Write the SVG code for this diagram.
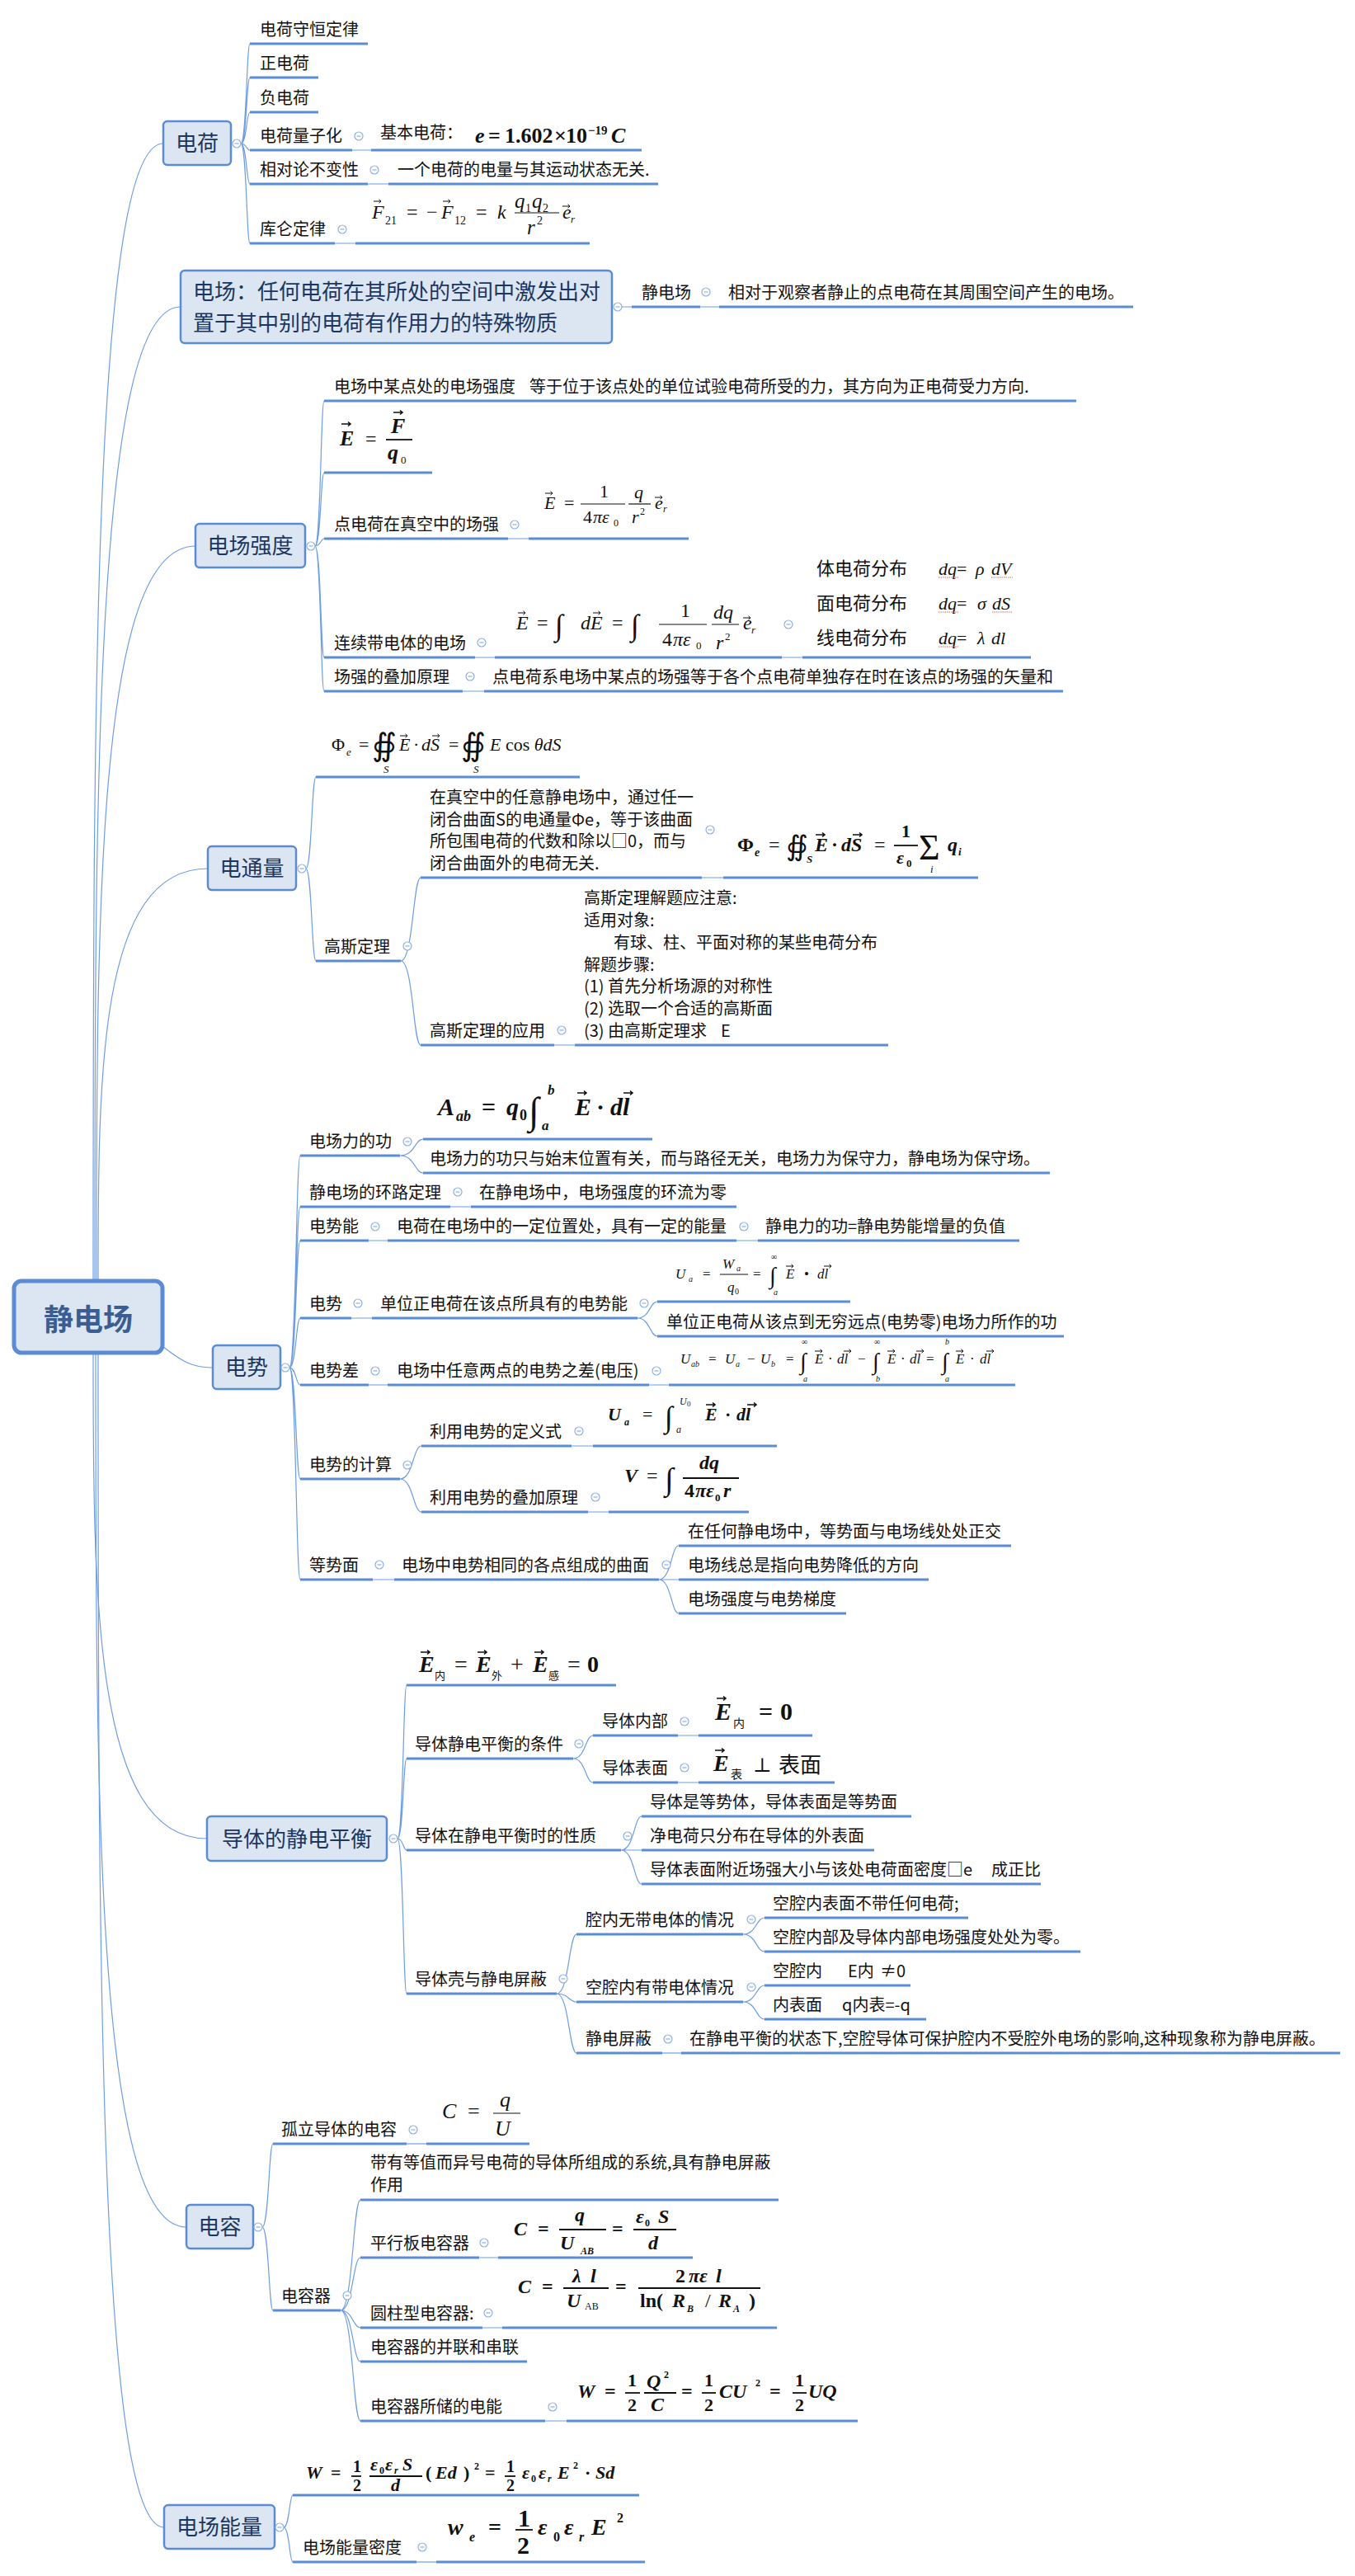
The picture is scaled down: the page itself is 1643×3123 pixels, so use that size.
<svg xmlns="http://www.w3.org/2000/svg" width="1643" height="3123" viewBox="0 0 1643 3123">
<defs>
<style>
.ul{stroke:#5a8dd6;stroke-width:3;fill:none}
.ln{stroke:#6e9ee2;stroke-width:1.2;fill:none}
.bx{fill:#dce6f2;stroke:#5b8bd4;stroke-width:2.5}
.mt{font-family:"Noto Sans CJK SC",sans-serif;font-size:26px;fill:#1b3660;text-anchor:middle}
.t{font-family:"Noto Sans CJK SC",sans-serif;font-size:20px;fill:#111}
.m{font-family:"Liberation Serif",serif;font-style:italic;fill:#111}
.mb{font-family:"Liberation Serif",serif;font-style:italic;font-weight:bold;fill:#111}
.r{font-family:"Liberation Serif",serif;fill:#111}
.rb{font-family:"Liberation Serif",serif;font-weight:bold;fill:#111}
.sym{font-family:"DejaVu Serif","DejaVu Sans",serif;fill:#111}
.cj{font-family:"Noto Sans CJK SC",sans-serif;fill:#111}
.fb{stroke:#111;stroke-width:1.2}
.fbb{stroke:#111;stroke-width:1.8}
.sq{stroke:#e06666;stroke-width:1;fill:none;stroke-dasharray:1.5 1}
</style>
<g id="c"><circle r="5" fill="#fff" stroke="#8db0e6" stroke-width="1.2"/><path d="M-2.5 0H2.5" stroke="#8db0e6" stroke-width="1.2"/></g>
<path id="va" d="M0 0H9M6.5-2.2L9 0L6.5 2.2" fill="none" stroke="#111" stroke-width="1"/>
<path id="vb" d="M0 0H11M8-2.5L11 0L8 2.5" fill="none" stroke="#111" stroke-width="1.6"/>
</defs>
<rect width="1643" height="3123" fill="#fff"/>

<g id="connectors" class="ln">
<path d="M113 1553C113 864 113 174 198 174"/>
<path d="M115 1553C115 963 115 372 219 372"/>
<path d="M117 1553C117 1108 117 662 237 662"/>
<path d="M119 1553C119 1303 119 1053 252 1053"/>
<path d="M197 1632C222 1652 235 1658 258 1658"/>
<path d="M113 1640C113 1935 113 2229 251 2229"/>
<path d="M116 1640C116 2170 116 2700 226 2700"/>
<path d="M119 1640C119 2352 119 3064 199 3064"/>
<path d="M292 174C299 174 299 53 303 53M292 174C299 174 299 94 303 94M292 174C299 174 299 136 303 136M292 174C299 174 299 182 303 182M292 174C299 174 299 223 303 223M292 174C299 174 299 295 303 295"/>
<path d="M427 182H450M446 223H471M406 295H431"/>
<path d="M754 372H766M849 372H872"/>
<path d="M382 662C389 662 389 486 393 486M382 662C389 662 389 573 393 573M382 662C389 662 389 653 393 653M382 662C389 662 389 797 393 797M382 662C389 662 389 838 393 838"/>
<path d="M616 653H641M576 797H600M948 797H973M561 838H587"/>
<path d="M371 1053C378 1053 378 942 383 942M371 1053C378 1053 378 1165 383 1165"/>
<path d="M486 1165C501 1165 501 1064 510 1064M486 1165C501 1165 501 1267 510 1267"/>
<path d="M851 1064H877M672 1267H697"/>
<path d="M351 1658C359 1658 359 1401 364 1401M351 1658C359 1658 359 1463 364 1463M351 1658C359 1658 359 1504 364 1504M351 1658C359 1658 359 1598 364 1598M351 1658C359 1658 359 1679 364 1679M351 1658C359 1658 359 1793 364 1793M351 1658C359 1658 359 1915 364 1915"/>
<path d="M485 1401C503 1401 503 1381 513 1381M485 1401C503 1401 503 1422 513 1422"/>
<path d="M546 1463H571M447 1504H470M893 1504H919M426 1598H451M447 1679H470M787 1679H811"/>
<path d="M773 1598C788 1598 788 1578 797 1578M773 1598C788 1598 788 1620 797 1620"/>
<path d="M485 1793C501 1793 501 1753 511 1753M485 1793C501 1793 501 1833 511 1833"/>
<path d="M693 1753H719M713 1833H738M452 1915H478"/>
<path d="M799 1915C814 1915 814 1874 823 1874M799 1915H823M799 1915C814 1915 814 1956 823 1956"/>
<path d="M482 2229C489 2229 489 2043 493 2043M482 2229C489 2229 489 2132 493 2132M482 2229C489 2229 489 2243 493 2243M482 2229C489 2229 489 2417 493 2417"/>
<path d="M695 2132C710 2132 710 2104 719 2104M695 2132C710 2132 710 2161 719 2161"/>
<path d="M822 2104H847M822 2161H847"/>
<path d="M753 2243C769 2243 769 2202 778 2202M753 2243H778M753 2243C769 2243 769 2284 778 2284"/>
<path d="M675 2417C690 2417 690 2345 699 2345M675 2417C690 2417 690 2427 699 2427M675 2417C690 2417 690 2489 699 2489"/>
<path d="M901 2345C917 2345 917 2325 927 2325M901 2345C917 2345 917 2366 927 2366M901 2427C917 2427 917 2407 927 2407M901 2427C917 2427 917 2448 927 2448"/>
<path d="M803 2489H826"/>
<path d="M318 2700C326 2700 326 2599 331 2599M318 2700C326 2700 326 2801 331 2801"/>
<path d="M493 2599H517"/>
<path d="M413 2801C428 2801 428 2667 437 2667M413 2801C428 2801 428 2737 437 2737M413 2801C428 2801 428 2822 437 2822M413 2801C428 2801 428 2863 437 2863M413 2801C428 2801 428 2935 437 2935"/>
<path d="M581 2737H604M585 2822H609M661 2935H687"/>
<path d="M344 3064C351 3064 351 3025 355 3025M344 3064C351 3064 351 3106 355 3106"/>
<path d="M505 3106H529"/>
</g>

<g id="root">
<rect x="17" y="1553" width="180" height="87" rx="9" fill="#dce6f2" stroke="#5b8bd4" stroke-width="5"/>
<text x="107" y="1613" font-family="Noto Sans CJK SC,sans-serif" font-size="36" font-weight="bold" fill="#3a5e94" text-anchor="middle">静电场</text>
</g>

<!-- 电荷 -->
<g id="n-dianhe">
<rect class="bx" x="198" y="147" width="82" height="53" rx="5"/>
<text class="mt" x="239" y="183">电荷</text>
<use href="#c" x="287" y="174"/>
</g>
<g id="n-shouheng"><path class="ul" d="M303 53H446"/><text class="t" x="315" y="43">电荷守恒定律</text></g>
<g id="n-zheng"><path class="ul" d="M303 94H386"/><text class="t" x="315" y="84">正电荷</text></g>
<g id="n-fu"><path class="ul" d="M303 136H386"/><text class="t" x="315" y="126">负电荷</text></g>
<g id="n-liangzi"><path class="ul" d="M303 182H427"/><text class="t" x="315" y="172">电荷量子化</text><use href="#c" x="435" y="165"/></g>
<g id="n-jiben"><path class="ul" d="M450 182H778"/><text class="t" x="461" y="168">基本电荷：</text>
<text class="mb" x="576" y="173" font-size="26">e</text>
<text class="rb" x="592" y="173" font-size="26">=</text>
<text class="rb" x="612" y="173" font-size="26">1.602</text>
<text class="rb" x="672" y="173" font-size="26">×</text>
<text class="rb" x="686" y="173" font-size="26">10</text>
<text class="rb" x="713" y="163" font-size="15">−19</text>
<text class="mb" x="741" y="173" font-size="26">C</text>
</g>
<g id="n-xiangdui"><path class="ul" d="M303 223H446"/><text class="t" x="315" y="213">相对论不变性</text><use href="#c" x="454" y="206"/></g>
<g id="n-xiangdui-c"><path class="ul" d="M471 223H798"/><text class="t" x="482" y="213">一个电荷的电量与其运动状态无关.</text></g>
<g id="n-kulun"><path class="ul" d="M303 295H406"/><text class="t" x="315" y="285">库仑定律</text><use href="#c" x="415" y="278"/></g>
<g id="n-kulun-f"><path class="ul" d="M431 295H715"/>
<text class="m" x="451" y="265" font-size="24">F</text><use href="#va" x="453" y="244"/>
<text class="r" x="467" y="272" font-size="14">21</text>
<text class="r" x="493" y="265" font-size="24">=</text>
<text class="r" x="517" y="265" font-size="24">−</text>
<text class="m" x="535" y="265" font-size="24">F</text><use href="#va" x="537" y="244"/>
<text class="r" x="551" y="272" font-size="14">12</text>
<text class="r" x="577" y="265" font-size="24">=</text>
<text class="m" x="603" y="265" font-size="24">k</text>
<text class="m" x="624" y="252" font-size="25">q</text><text class="r" x="637" y="257" font-size="14">1</text>
<text class="m" x="645" y="252" font-size="25">q</text><text class="r" x="658" y="257" font-size="14">2</text>
<path class="fb" d="M624 258H678"/>
<text class="m" x="639" y="284" font-size="25">r</text><text class="r" x="651" y="272" font-size="14">2</text>
<text class="m" x="682" y="265" font-size="24">e</text><text class="m" x="692" y="270" font-size="13">r</text><use href="#va" x="682" y="250"/>
</g>

<!-- 电场 -->
<g id="n-dianchang">
<rect class="bx" x="219" y="328" width="523" height="88" rx="5"/>
<text class="mt" x="234" y="363" style="text-anchor:start">电场：任何电荷在其所处的空间中激发出对</text>
<text class="mt" x="234" y="401" style="text-anchor:start">置于其中别的电荷有作用力的特殊物质</text>
<use href="#c" x="749" y="372"/>
</g>
<g id="n-jingdianchang"><path class="ul" d="M766 372H849"/><text class="t" x="778" y="362">静电场</text><use href="#c" x="856" y="354"/></g>
<g id="n-jingdianchang-c"><path class="ul" d="M872 372H1374"/><text class="t" x="883" y="362">相对于观察者静止的点电荷在其周围空间产生的电场。</text></g>

<!-- 电场强度 -->
<g id="n-qiangdu">
<rect class="bx" x="237" y="635" width="133" height="53" rx="5"/>
<text class="mt" x="303.5" y="671">电场强度</text>
<use href="#c" x="377" y="662"/>
</g>
<g id="n-qd-def"><path class="ul" d="M393 486H1305"/><text class="t" x="405" y="476">电场中某点处的电场强度</text><text class="t" x="642" y="476">等于位于该点处的单位试验电荷所受的力，其方向为正电荷受力方向.</text></g>
<g id="n-qd-f"><path class="ul" d="M393 573H524"/>
<text class="mb" x="412" y="540" font-size="26">E</text><use href="#vb" x="414" y="514"/>
<text class="r" x="443" y="540" font-size="24">=</text>
<text class="mb" x="474" y="525" font-size="26">F</text><use href="#vb" x="477" y="500"/>
<path class="fbb" d="M468 533H500"/>
<text class="mb" x="470" y="557" font-size="26">q</text><text class="r" x="486" y="562" font-size="13">0</text>
</g>
<g id="n-dian"><path class="ul" d="M393 653H616"/><text class="t" x="405" y="643">点电荷在真空中的场强</text><use href="#c" x="624" y="636"/></g>
<g id="n-dian-f"><path class="ul" d="M641 653H835"/>
<text class="m" x="660" y="617" font-size="22">E</text><use href="#va" x="661" y="598"/>
<text class="r" x="684" y="617" font-size="22">=</text>
<text class="r" x="727" y="603" font-size="22">1</text>
<path class="fb" d="M704 611H758"/>
<text class="r" x="707" y="634" font-size="22">4</text><text class="m" x="719" y="634" font-size="22">πε</text><text class="r" x="744" y="638" font-size="12">0</text>
<text class="m" x="769" y="604" font-size="22">q</text>
<path class="fb" d="M762 611H789"/>
<text class="m" x="766" y="634" font-size="22">r</text><text class="r" x="776" y="624" font-size="12">2</text>
<text class="m" x="794" y="617" font-size="22">e</text><text class="m" x="804" y="621" font-size="12">r</text><use href="#va" x="794" y="603"/>
</g>
<g id="n-lianxu"><path class="ul" d="M393 797H576"/><text class="t" x="405" y="787">连续带电体的电场</text><use href="#c" x="584" y="779"/></g>
<g id="n-lianxu-f"><path class="ul" d="M600 797H948"/>
<text class="m" x="626" y="763" font-size="24">E</text><use href="#va" x="628" y="743"/>
<text class="r" x="651" y="763" font-size="24">=</text>
<text class="r" x="673" y="770" font-size="36">∫</text>
<text class="m" x="704" y="763" font-size="24">dE</text><use href="#va" x="719" y="743"/>
<text class="r" x="742" y="763" font-size="24">=</text>
<text class="r" x="765" y="770" font-size="36">∫</text>
<text class="r" x="825" y="748" font-size="24">1</text>
<path class="fb" d="M799 757H857"/>
<text class="r" x="803" y="783" font-size="24">4</text><text class="m" x="816" y="783" font-size="24">πε</text><text class="r" x="844" y="787" font-size="13">0</text>
<text class="m" x="865" y="750" font-size="24">dq</text>
<path class="fb" d="M863 757H896"/>
<text class="m" x="868" y="787" font-size="24">r</text><text class="r" x="879" y="776" font-size="13">2</text>
<text class="m" x="901" y="763" font-size="24">e</text><text class="m" x="911" y="768" font-size="13">r</text><use href="#va" x="901" y="749"/>
<use href="#c" x="956" y="757"/>
</g>
<g id="n-fenbu"><path class="ul" d="M973 797H1250"/>
<text class="cj" x="990" y="697" font-size="22">体电荷分布</text>
<text class="cj" x="990" y="739" font-size="22">面电荷分布</text>
<text class="cj" x="990" y="781" font-size="22">线电荷分布</text>
<text class="m" x="1138" y="697" font-size="22">dq<tspan style="font-style:normal">=</tspan></text><text class="m" x="1183" y="697" font-size="22">ρ</text><text class="m" x="1202" y="697" font-size="22">dV</text>
<text class="m" x="1138" y="739" font-size="22">dq<tspan style="font-style:normal">=</tspan></text><text class="m" x="1185" y="739" font-size="22">σ</text><text class="m" x="1203" y="739" font-size="22">dS</text>
<text class="m" x="1138" y="781" font-size="22">dq<tspan style="font-style:normal">=</tspan></text><text class="m" x="1185" y="781" font-size="22">λ</text><text class="m" x="1202" y="781" font-size="22">dl</text>
<path class="sq" d="M1138 700H1163M1202 700H1228M1138 742H1163M1203 742H1227M1138 784H1163"/>
</g>
<g id="n-diejia"><path class="ul" d="M393 838H561"/><text class="t" x="405" y="828">场强的叠加原理</text><use href="#c" x="570" y="820"/></g>
<g id="n-diejia-c"><path class="ul" d="M587 838H1289"/><text class="t" x="597" y="828">点电荷系电场中某点的场强等于各个点电荷单独存在时在该点的场强的矢量和</text></g>

<!-- 电通量 -->
<g id="n-tongliang">
<rect class="bx" x="252" y="1026" width="107" height="53" rx="5"/>
<text class="mt" x="305.5" y="1062">电通量</text>
<use href="#c" x="366" y="1053"/>
</g>
<g id="n-tl-f"><path class="ul" d="M383 942H703"/>
<text class="r" x="402" y="910" font-size="22">Φ</text><text class="m" x="420" y="916" font-size="13">e</text>
<text class="r" x="435" y="910" font-size="22">=</text>
<text class="sym" x="451" y="916" font-size="38">∯</text><text class="m" x="465" y="937" font-size="13">S</text>
<text class="m" x="484" y="910" font-size="22">E</text><use href="#va" x="485" y="892"/>
<text class="r" x="501" y="910" font-size="22">·</text>
<text class="m" x="511" y="910" font-size="22">dS</text><use href="#va" x="524" y="892"/>
<text class="r" x="544" y="910" font-size="22">=</text>
<text class="sym" x="559" y="916" font-size="38">∯</text><text class="m" x="574" y="937" font-size="13">S</text>
<text class="m" x="594" y="910" font-size="22">E<tspan style="font-style:normal"> cos </tspan>θdS</text>
</g>
<g id="n-gaosi"><path class="ul" d="M383 1165H486"/><text class="t" x="393" y="1155">高斯定理</text><use href="#c" x="494" y="1147"/></g>
<g id="n-gaosi-def"><path class="ul" d="M510 1064H851"/>
<text class="t" x="521" y="974">在真空中的任意静电场中，通过任一</text>
<text class="t" x="521" y="1001">闭合曲面S的电通量Φe，等于该曲面</text>
<text class="t" x="521" y="1027">所包围电荷的代数和除以□0，而与</text>
<text class="t" x="521" y="1054">闭合曲面外的电荷无关.</text>
<use href="#c" x="861" y="1006"/>
</g>
<g id="n-gaosi-f"><path class="ul" d="M877 1064H1186"/>
<text class="rb" x="894" y="1032" font-size="24">Φ</text><text class="mb" x="915" y="1038" font-size="14">e</text>
<text class="r" x="932" y="1032" font-size="24">=</text>
<text class="sym" x="953" y="1037" font-size="34">∯</text><text class="mb" x="978" y="1046" font-size="13">S</text>
<text class="mb" x="988" y="1032" font-size="24">E</text><use href="#vb" x="989" y="1012"/>
<text class="rb" x="1008" y="1032" font-size="24">·</text>
<text class="mb" x="1020" y="1032" font-size="24">dS</text><use href="#vb" x="1034" y="1012"/>
<text class="r" x="1060" y="1032" font-size="24">=</text>
<text class="rb" x="1093" y="1015" font-size="22">1</text>
<path class="fbb" d="M1084 1025H1113"/>
<text class="mb" x="1087" y="1047" font-size="22">ε</text><text class="rb" x="1099" y="1051" font-size="13">0</text>
<text class="r" x="1114" y="1042" font-size="44">Σ</text><text class="m" x="1128" y="1058" font-size="13">i</text>
<text class="mb" x="1149" y="1032" font-size="24">q</text><text class="mb" x="1162" y="1037" font-size="13">i</text>
</g>
<g id="n-gaosi-app"><path class="ul" d="M510 1267H672"/><text class="t" x="521" y="1257">高斯定理的应用</text><use href="#c" x="681" y="1249"/></g>
<g id="n-gaosi-app-c"><path class="ul" d="M697 1267H1077"/>
<text class="t" x="708" y="1096">高斯定理解题应注意:</text>
<text class="t" x="708" y="1123">适用对象:</text>
<text class="t" x="744" y="1150">有球、柱、平面对称的某些电荷分布</text>
<text class="t" x="708" y="1177">解题步骤:</text>
<text class="t" x="708" y="1203">(1) 首先分析场源的对称性</text>
<text class="t" x="708" y="1230">(2) 选取一个合适的高斯面</text>
<text class="t" x="708" y="1257">(3) 由高斯定理求<tspan x="874">E</tspan></text>
</g>

<!-- 电势 -->
<g id="n-dianshi">
<rect class="bx" x="258" y="1631" width="82" height="53" rx="5"/>
<text class="mt" x="299" y="1667">电势</text>
<use href="#c" x="346" y="1658"/>
</g>
<g id="n-gong"><path class="ul" d="M364 1401H485"/><text class="t" x="375" y="1391">电场力的功</text><use href="#c" x="494" y="1384"/></g>
<g id="n-gong-f"><path class="ul" d="M513 1381H791"/>
<text class="mb" x="531" y="1352" font-size="30">A</text><text class="mb" x="553" y="1359" font-size="18">ab</text>
<text class="rb" x="584" y="1352" font-size="30">=</text>
<text class="mb" x="614" y="1352" font-size="30">q</text><text class="rb" x="630" y="1358" font-size="18">0</text>
<text class="rb" x="641" y="1362" font-size="46">∫</text>
<text class="mb" x="664" y="1327" font-size="17">b</text>
<text class="mb" x="657" y="1370" font-size="17">a</text>
<text class="mb" x="697" y="1352" font-size="30">E</text><use href="#vb" x="700" y="1325"/>
<text class="rb" x="723" y="1352" font-size="30">·</text>
<text class="mb" x="740" y="1352" font-size="30">dl</text><use href="#vb" x="756" y="1325"/>
</g>
<g id="n-gong-c"><path class="ul" d="M513 1422H1273"/><text class="t" x="521" y="1412">电场力的功只与始末位置有关，而与路径无关，电场力为保守力，静电场为保守场。</text></g>
<g id="n-huanlu"><path class="ul" d="M364 1463H546"/><text class="t" x="375" y="1453">静电场的环路定理</text><use href="#c" x="555" y="1445"/></g>
<g id="n-huanlu-c"><path class="ul" d="M571 1463H893"/><text class="t" x="581" y="1453">在静电场中，电场强度的环流为零</text></g>
<g id="n-shineng"><path class="ul" d="M364 1504H447"/><text class="t" x="375" y="1494">电势能</text><use href="#c" x="455" y="1487"/></g>
<g id="n-shineng-c"><path class="ul" d="M470 1504H893"/><text class="t" x="481" y="1494">电荷在电场中的一定位置处，具有一定的能量</text><use href="#c" x="902" y="1487"/></g>
<g id="n-shineng-cc"><path class="ul" d="M919 1504H1236"/><text class="t" x="928" y="1494">静电力的功=静电势能增量的负值</text></g>
<g id="n-ds"><path class="ul" d="M364 1598H426"/><text class="t" x="375" y="1588">电势</text><use href="#c" x="434" y="1580"/></g>
<g id="n-ds-c"><path class="ul" d="M451 1598H773"/><text class="t" x="461" y="1588">单位正电荷在该点所具有的电势能</text><use href="#c" x="781" y="1580"/></g>
<g id="n-ds-f"><path class="ul" d="M797 1578H1031"/>
<text class="m" x="819" y="1550" font-size="17">U</text><text class="m" x="835" y="1554" font-size="10">a</text>
<text class="r" x="852" y="1550" font-size="17">=</text>
<text class="m" x="876" y="1538" font-size="17">W</text><text class="m" x="893" y="1541" font-size="10">a</text>
<path class="fb" d="M873 1545H907"/>
<text class="m" x="882" y="1566" font-size="17">q</text><text class="r" x="891" y="1569" font-size="10">0</text>
<text class="r" x="913" y="1550" font-size="17">=</text>
<text class="r" x="933" y="1556" font-size="28">∫</text>
<text class="r" x="935" y="1527" font-size="10">∞</text>
<text class="m" x="938" y="1570" font-size="10">a</text>
<text class="m" x="953" y="1550" font-size="17">E</text><use href="#va" x="953" y="1535"/>
<text class="r" x="975" y="1550" font-size="17">•</text>
<text class="m" x="991" y="1550" font-size="17">dl</text><use href="#va" x="999" y="1535"/>
</g>
<g id="n-ds-c2"><path class="ul" d="M797 1620H1290"/><text class="t" x="808" y="1610">单位正电荷从该点到无穷远点(电势零)电场力所作的功</text></g>
<g id="n-shicha"><path class="ul" d="M364 1679H447"/><text class="t" x="375" y="1669">电势差</text><use href="#c" x="455" y="1662"/></g>
<g id="n-shicha-c"><path class="ul" d="M470 1679H787"/><text class="t" x="481" y="1669">电场中任意两点的电势之差(电压)</text><use href="#c" x="796" y="1662"/></g>
<g id="n-shicha-f"><path class="ul" d="M811 1679H1231"/>
<text class="m" x="825" y="1653" font-size="17">U</text><text class="m" x="838" y="1657" font-size="10">ab</text>
<text class="r" x="859" y="1653" font-size="17">=</text>
<text class="m" x="879" y="1653" font-size="17">U</text><text class="m" x="892" y="1657" font-size="10">a</text>
<text class="r" x="906" y="1653" font-size="17">−</text>
<text class="m" x="922" y="1653" font-size="17">U</text><text class="m" x="935" y="1657" font-size="10">b</text>
<text class="r" x="953" y="1653" font-size="17">=</text>
<text class="r" x="970" y="1660" font-size="28">∫</text><text class="r" x="972" y="1630" font-size="10">∞</text><text class="m" x="974" y="1675" font-size="10">a</text>
<text class="m" x="988" y="1653" font-size="17">E</text><use href="#va" x="988" y="1638"/>
<text class="r" x="1004" y="1653" font-size="17">·</text>
<text class="m" x="1015" y="1653" font-size="17">dl</text><use href="#va" x="1023" y="1638"/>
<text class="r" x="1040" y="1653" font-size="17">−</text>
<text class="r" x="1058" y="1660" font-size="28">∫</text><text class="r" x="1060" y="1630" font-size="10">∞</text><text class="m" x="1062" y="1675" font-size="10">b</text>
<text class="m" x="1076" y="1653" font-size="17">E</text><use href="#va" x="1076" y="1638"/>
<text class="r" x="1092" y="1653" font-size="17">·</text>
<text class="m" x="1103" y="1653" font-size="17">dl</text><use href="#va" x="1111" y="1638"/>
<text class="r" x="1123" y="1653" font-size="17">=</text>
<text class="r" x="1142" y="1660" font-size="28">∫</text><text class="m" x="1146" y="1630" font-size="10">b</text><text class="m" x="1146" y="1675" font-size="10">a</text>
<text class="m" x="1159" y="1653" font-size="17">E</text><use href="#va" x="1159" y="1638"/>
<text class="r" x="1176" y="1653" font-size="17">·</text>
<text class="m" x="1188" y="1653" font-size="17">dl</text><use href="#va" x="1196" y="1638"/>
</g>
<g id="n-jisuan"><path class="ul" d="M364 1793H485"/><text class="t" x="375" y="1783">电势的计算</text><use href="#c" x="494" y="1776"/></g>
<g id="n-dingyi"><path class="ul" d="M511 1753H693"/><text class="t" x="521" y="1743">利用电势的定义式</text><use href="#c" x="702" y="1735"/></g>
<g id="n-dingyi-f"><path class="ul" d="M719 1753H942"/>
<text class="mb" x="737" y="1722" font-size="22">U</text><text class="mb" x="757" y="1728" font-size="12">a</text>
<text class="r" x="779" y="1722" font-size="22">=</text>
<text class="rb" x="806" y="1730" font-size="36">∫</text>
<text class="m" x="824" y="1703" font-size="12">U</text><text class="r" x="833" y="1705" font-size="9">0</text>
<text class="m" x="820" y="1737" font-size="12">a</text>
<text class="mb" x="855" y="1722" font-size="22">E</text><use href="#vb" x="856" y="1703"/>
<text class="rb" x="879" y="1722" font-size="22">·</text>
<text class="mb" x="893" y="1722" font-size="22">dl</text><use href="#vb" x="906" y="1703"/>
</g>
<g id="n-diejia2"><path class="ul" d="M511 1833H713"/><text class="t" x="521" y="1823">利用电势的叠加原理</text><use href="#c" x="722" y="1815"/></g>
<g id="n-diejia2-f"><path class="ul" d="M738 1833H908"/>
<text class="mb" x="757" y="1797" font-size="24">V</text>
<text class="r" x="784" y="1797" font-size="24">=</text>
<text class="rb" x="806" y="1806" font-size="38">∫</text>
<text class="mb" x="848" y="1781" font-size="24">dq</text>
<path class="fbb" d="M828 1792H896"/>
<text class="rb" x="830" y="1815" font-size="24">4</text><text class="mb" x="843" y="1815" font-size="24">πε</text><text class="rb" x="867" y="1820" font-size="13">0</text><text class="mb" x="877" y="1815" font-size="24">r</text>
</g>
<g id="n-dengshi"><path class="ul" d="M364 1915H452"/><text class="t" x="375" y="1905">等势面</text><use href="#c" x="460" y="1897"/></g>
<g id="n-dengshi-c"><path class="ul" d="M478 1915H799"/><text class="t" x="487" y="1905">电场中电势相同的各点组成的曲面</text><use href="#c" x="808" y="1897"/></g>
<g id="n-ds1"><path class="ul" d="M823 1874H1226"/><text class="t" x="834" y="1864">在任何静电场中，等势面与电场线处处正交</text></g>
<g id="n-ds2"><path class="ul" d="M823 1915H1126"/><text class="t" x="834" y="1905">电场线总是指向电势降低的方向</text></g>
<g id="n-ds3"><path class="ul" d="M823 1956H1026"/><text class="t" x="834" y="1946">电场强度与电势梯度</text></g>

<!-- 导体的静电平衡 -->
<g id="n-daoti">
<rect class="bx" x="251" y="2202" width="218" height="54" rx="5"/>
<text class="mt" x="360" y="2239">导体的静电平衡</text>
<use href="#c" x="477" y="2229"/>
</g>
<g id="n-dt-f"><path class="ul" d="M493 2043H747"/>
<text class="mb" x="508" y="2027" font-size="28">E</text><use href="#vb" x="510" y="2003"/><text class="cj" x="527" y="2036" font-size="13">内</text>
<text class="r" x="551" y="2027" font-size="28">=</text>
<text class="mb" x="577" y="2027" font-size="28">E</text><use href="#vb" x="579" y="2003"/><text class="cj" x="596" y="2036" font-size="13">外</text>
<text class="r" x="619" y="2027" font-size="28">+</text>
<text class="mb" x="646" y="2027" font-size="28">E</text><use href="#vb" x="648" y="2003"/><text class="cj" x="665" y="2036" font-size="13">感</text>
<text class="r" x="688" y="2027" font-size="28">=</text>
<text class="rb" x="712" y="2027" font-size="28">0</text>
</g>
<g id="n-tiaojian"><path class="ul" d="M493 2132H695"/><text class="t" x="503" y="2122">导体静电平衡的条件</text><use href="#c" x="702" y="2114"/></g>
<g id="n-neibu"><path class="ul" d="M719 2104H822"/><text class="t" x="730" y="2094">导体内部</text><use href="#c" x="830" y="2087"/></g>
<g id="n-neibu-f"><path class="ul" d="M847 2104H985"/>
<text class="mb" x="867" y="2085" font-size="30">E</text><use href="#vb" x="869" y="2059"/><text class="cj" x="889" y="2094" font-size="14">内</text>
<text class="rb" x="920" y="2085" font-size="30">=</text>
<text class="rb" x="946" y="2085" font-size="30">0</text>
</g>
<g id="n-biaomian"><path class="ul" d="M719 2161H822"/><text class="t" x="730" y="2151">导体表面</text><use href="#c" x="830" y="2143"/></g>
<g id="n-biaomian-f"><path class="ul" d="M847 2161H1012"/>
<text class="mb" x="865" y="2147" font-size="28">E</text><use href="#vb" x="867" y="2122"/><text class="cj" x="886" y="2156" font-size="14">表</text>
<text class="sym" x="913" y="2148" font-size="24">⊥</text>
<text class="cj" x="944" y="2149" font-size="26">表面</text>
</g>
<g id="n-xingzhi"><path class="ul" d="M493 2243H753"/><text class="t" x="503" y="2233">导体在静电平衡时的性质</text><use href="#c" x="761" y="2226"/></g>
<g id="n-xz1"><path class="ul" d="M778 2202H1105"/><text class="t" x="788" y="2192">导体是等势体，导体表面是等势面</text></g>
<g id="n-xz2"><path class="ul" d="M778 2243H1060"/><text class="t" x="788" y="2233">净电荷只分布在导体的外表面</text></g>
<g id="n-xz3"><path class="ul" d="M778 2284H1262"/><text class="t" x="788" y="2274">导体表面附近场强大小与该处电荷面密度□e<tspan x="1202">成正比</tspan></text></g>
<g id="n-pingbi"><path class="ul" d="M493 2417H675"/><text class="t" x="503" y="2407">导体壳与静电屏蔽</text><use href="#c" x="683" y="2399"/></g>
<g id="n-qiang1"><path class="ul" d="M699 2345H901"/><text class="t" x="710" y="2335">腔内无带电体的情况</text><use href="#c" x="911" y="2327"/></g>
<g id="n-q1a"><path class="ul" d="M927 2325H1174"/><text class="t" x="937" y="2315">空腔内表面不带任何电荷;</text></g>
<g id="n-q1b"><path class="ul" d="M927 2366H1310"/><text class="t" x="937" y="2356">空腔内部及导体内部电场强度处处为零。</text></g>
<g id="n-qiang2"><path class="ul" d="M699 2427H901"/><text class="t" x="710" y="2417">空腔内有带电体情况</text><use href="#c" x="911" y="2409"/></g>
<g id="n-q2a"><path class="ul" d="M927 2407H1104"/><text class="t" x="937" y="2397">空腔内<tspan x="1028">E内</tspan><tspan x="1067">≠0</tspan></text></g>
<g id="n-q2b"><path class="ul" d="M927 2448H1123"/><text class="t" x="937" y="2438">内表面<tspan x="1021">q内表=-q</tspan></text></g>
<g id="n-jdpb"><path class="ul" d="M699 2489H803"/><text class="t" x="710" y="2479">静电屏蔽</text><use href="#c" x="810" y="2472"/></g>
<g id="n-jdpb-c"><path class="ul" d="M826 2489H1625"/><text class="t" x="836" y="2479">在静电平衡的状态下,空腔导体可保护腔内不受腔外电场的影响,这种现象称为静电屏蔽。</text></g>

<!-- 电容 -->
<g id="n-dianrong">
<rect class="bx" x="226" y="2673" width="81" height="53" rx="5"/>
<text class="mt" x="266.5" y="2709">电容</text>
<use href="#c" x="313" y="2700"/>
</g>
<g id="n-guli"><path class="ul" d="M331 2599H493"/><text class="t" x="341" y="2589">孤立导体的电容</text><use href="#c" x="501" y="2582"/></g>
<g id="n-guli-f"><path class="ul" d="M517 2599H642"/>
<text class="m" x="536" y="2568" font-size="26">C</text>
<text class="r" x="567" y="2568" font-size="26">=</text>
<text class="m" x="606" y="2554" font-size="26">q</text>
<path class="fb" d="M598 2562H631"/>
<text class="m" x="600" y="2589" font-size="26">U</text>
</g>
<g id="n-rongqi"><path class="ul" d="M331 2801H413"/><text class="t" x="341" y="2791">电容器</text><use href="#c" x="421" y="2783"/></g>
<g id="n-rq1"><path class="ul" d="M437 2667H944"/><text class="t" x="449" y="2629">带有等值而异号电荷的导体所组成的系统,具有静电屏蔽</text><text class="t" x="449" y="2656">作用</text></g>
<g id="n-pingxing"><path class="ul" d="M437 2737H581"/><text class="t" x="449" y="2727">平行板电容器</text><use href="#c" x="587" y="2719"/></g>
<g id="n-pingxing-f"><path class="ul" d="M604 2737H840"/>
<text class="mb" x="623" y="2710" font-size="24">C</text>
<text class="rb" x="652" y="2710" font-size="24">=</text>
<text class="mb" x="697" y="2693" font-size="24">q</text>
<path class="fbb" d="M678 2703H735"/>
<text class="mb" x="679" y="2727" font-size="24">U</text><text class="mb" x="704" y="2733" font-size="12">AB</text>
<text class="rb" x="742" y="2710" font-size="24">=</text>
<text class="mb" x="771" y="2695" font-size="24">ε</text><text class="rb" x="782" y="2699" font-size="12">0</text><text class="mb" x="798" y="2695" font-size="24">S</text>
<path class="fbb" d="M768 2703H820"/>
<text class="mb" x="786" y="2727" font-size="24">d</text>
</g>
<g id="n-yuanzhu"><path class="ul" d="M437 2822H585"/><text class="t" x="449" y="2812">圆柱型电容器:</text><use href="#c" x="592" y="2804"/></g>
<g id="n-yuanzhu-f"><path class="ul" d="M609 2822H942"/>
<text class="mb" x="628" y="2780" font-size="24">C</text>
<text class="rb" x="657" y="2780" font-size="24">=</text>
<text class="mb" x="694" y="2767" font-size="24">λ</text><text class="mb" x="716" y="2767" font-size="24">l</text>
<path class="fbb" d="M683 2774H738"/>
<text class="mb" x="687" y="2797" font-size="24">U</text><text class="r" x="709" y="2800" font-size="12">AB</text>
<text class="rb" x="746" y="2780" font-size="24">=</text>
<text class="rb" x="819" y="2767" font-size="24">2</text><text class="mb" x="835" y="2767" font-size="24">πε</text><text class="mb" x="868" y="2767" font-size="24">l</text>
<path class="fbb" d="M774 2774H922"/>
<text class="rb" x="776" y="2797" font-size="24">ln(</text>
<text class="mb" x="815" y="2797" font-size="24">R</text><text class="mb" x="833" y="2803" font-size="12">B</text>
<text class="r" x="855" y="2797" font-size="24">/</text>
<text class="mb" x="871" y="2797" font-size="24">R</text><text class="mb" x="889" y="2803" font-size="12">A</text>
<text class="rb" x="908" y="2797" font-size="24">)</text>
</g>
<g id="n-binglian"><path class="ul" d="M437 2863H639"/><text class="t" x="449" y="2853">电容器的并联和串联</text></g>
<g id="n-diannen"><path class="ul" d="M437 2935H661"/><text class="t" x="449" y="2925">电容器所储的电能</text><use href="#c" x="670" y="2918"/></g>
<g id="n-diannen-f"><path class="ul" d="M687 2935H1040"/>
<text class="mb" x="700" y="2907" font-size="24">W</text>
<text class="rb" x="733" y="2907" font-size="24">=</text>
<text class="rb" x="761" y="2893" font-size="22">1</text><path class="fbb" d="M758 2901H776"/><text class="rb" x="761" y="2923" font-size="22">2</text>
<text class="mb" x="784" y="2895" font-size="24">Q</text><text class="rb" x="805" y="2883" font-size="12">2</text>
<path class="fbb" d="M781 2901H820"/>
<text class="mb" x="789" y="2923" font-size="24">C</text>
<text class="rb" x="826" y="2907" font-size="24">=</text>
<text class="rb" x="854" y="2893" font-size="22">1</text><path class="fbb" d="M851 2901H868"/><text class="rb" x="854" y="2923" font-size="22">2</text>
<text class="mb" x="872" y="2907" font-size="24">CU</text><text class="rb" x="916" y="2893" font-size="12">2</text>
<text class="rb" x="933" y="2907" font-size="24">=</text>
<text class="rb" x="964" y="2893" font-size="22">1</text><path class="fbb" d="M961 2901H978"/><text class="rb" x="964" y="2923" font-size="22">2</text>
<text class="mb" x="980" y="2907" font-size="24">UQ</text>
</g>

<!-- 电场能量 -->
<g id="n-nengliang">
<rect class="bx" x="199" y="3037" width="134" height="53" rx="5"/>
<text class="mt" x="266" y="3073">电场能量</text>
<use href="#c" x="339" y="3064"/>
</g>
<g id="n-nl-f"><path class="ul" d="M355 3025H775"/>
<text class="mb" x="371" y="3005" font-size="22">W</text>
<text class="rb" x="401" y="3005" font-size="22">=</text>
<text class="rb" x="428" y="2997" font-size="20">1</text><path class="fbb" d="M426 3002H438"/><text class="rb" x="428" y="3020" font-size="20">2</text>
<text class="mb" x="449" y="2995" font-size="22">ε</text><text class="rb" x="460" y="2999" font-size="12">0</text><text class="mb" x="467" y="2995" font-size="22">ε</text><text class="mb" x="478" y="2999" font-size="12">r</text><text class="mb" x="488" y="2995" font-size="22">S</text>
<path class="fbb" d="M448 3002H512"/>
<text class="mb" x="474" y="3020" font-size="22">d</text>
<text class="rb" x="516" y="3005" font-size="22">(</text><text class="mb" x="528" y="3005" font-size="22">Ed</text><text class="rb" x="562" y="3005" font-size="22">)</text><text class="rb" x="575" y="2994" font-size="12">2</text>
<text class="rb" x="588" y="3005" font-size="22">=</text>
<text class="rb" x="614" y="2997" font-size="20">1</text><path class="fbb" d="M612 3002H625"/><text class="rb" x="614" y="3020" font-size="20">2</text>
<text class="mb" x="633" y="3005" font-size="22">ε</text><text class="rb" x="644" y="3009" font-size="12">0</text><text class="mb" x="653" y="3005" font-size="22">ε</text><text class="mb" x="664" y="3009" font-size="12">r</text><text class="mb" x="676" y="3005" font-size="22">E</text><text class="rb" x="695" y="2993" font-size="12">2</text>
<text class="rb" x="709" y="3005" font-size="22">·</text>
<text class="mb" x="722" y="3005" font-size="22">Sd</text>
</g>
<g id="n-midu"><path class="ul" d="M355 3106H505"/><text class="t" x="367" y="3096">电场能量密度</text><use href="#c" x="512" y="3088"/></g>
<g id="n-midu-f"><path class="ul" d="M529 3106H782"/>
<text class="mb" x="543" y="3073" font-size="28">w</text><text class="mb" x="569" y="3081" font-size="16">e</text>
<text class="rb" x="592" y="3073" font-size="28">=</text>
<text class="rb" x="628" y="3063" font-size="30">1</text><path class="fbb" d="M625 3067H646"/><text class="rb" x="627" y="3096" font-size="30">2</text>
<text class="mb" x="652" y="3073" font-size="28">ε</text><text class="rb" x="671" y="3081" font-size="16">0</text>
<text class="mb" x="684" y="3073" font-size="28">ε</text><text class="mb" x="702" y="3081" font-size="16">r</text>
<text class="mb" x="717" y="3073" font-size="28">E</text><text class="rb" x="748" y="3058" font-size="16">2</text>
</g>
</svg>
